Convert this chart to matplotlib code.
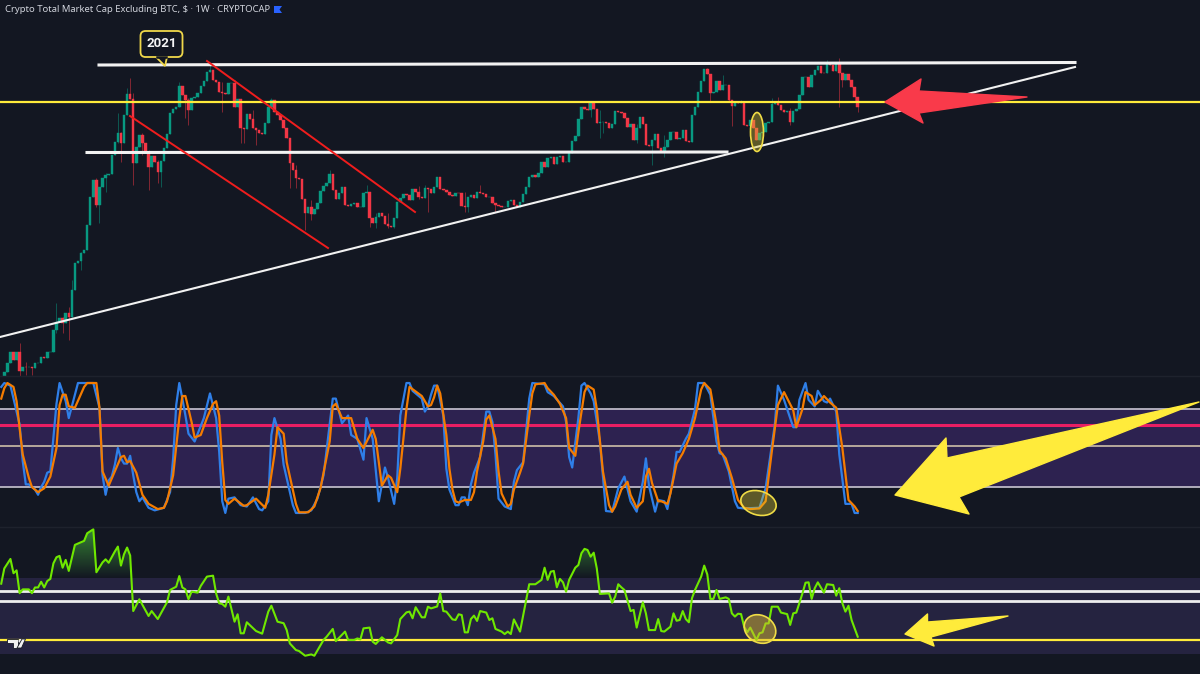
import numpy as np
import matplotlib
matplotlib.use("Agg")
from matplotlib import pyplot as plt
from matplotlib.patches import Ellipse, FancyBboxPatch, Polygon
from matplotlib.path import Path

W, H = 1200, 674
BG = "#131722"
UP = "#089981"
DOWN = "#F23645"
YELLOW = "#FFEB3B"

# weekly closes, in units of the (unlabelled) price pane
closes = [
    13, 38, 73, 48, 73, 16, 28, 26, 26, 23, 38, 40, 58, 53, 71, 73, 138, 163, 173, 160,
    190, 176, 258, 338, 346, 368, 378, 453, 538, 588, 513, 566, 593, 603, 605, 663, 703, 730, 698, 783,
    846, 830, 638, 688, 723, 700, 673, 626, 660, 643, 613, 645, 683, 726, 788, 801, 808, 870, 843, 828,
    798, 833, 836, 850, 870, 886, 913, 918, 888, 881, 853, 850, 846, 878, 878, 806, 830, 743, 740, 786,
    770, 743, 738, 730, 726, 760, 808, 828, 793, 783, 768, 743, 713,
    638, 618, 593, 590, 530, 488, 508, 486, 500, 520, 556, 570, 580, 606, 558, 530, 548, 568, 513, 510,
    516, 520, 506, 508, 548, 553, 475, 458, 476, 488, 480, 456, 450, 448, 473, 523, 533, 546, 544, 528,
    560, 553, 536, 533, 563, 560, 548, 566, 596, 560, 558, 553, 543, 540, 550, 548, 510, 508, 536, 544,
    533, 553, 550, 546, 536, 538, 518, 513, 510, 506, 506, 526, 528, 513, 506, 523, 546, 568, 598, 602,
    596, 610, 643, 628, 653, 658, 636, 658, 660, 643, 643, 670, 706, 720,
    770, 806, 802, 798, 818, 800, 758, 761, 763, 760, 743, 756, 795, 792, 788, 773, 748, 756, 708, 743,
    778, 756, 693, 690, 708, 726, 683, 673, 688, 708, 733, 733, 710, 713, 738, 706, 703, 783, 808, 853,
    886, 920, 906, 848, 853, 886, 858, 873, 873, 828, 810, 823, 820, 820, 753, 750, 768, 743, 708, 730,
    733, 758, 763, 816, 820, 813, 798, 793, 796, 763, 796, 800, 843, 896, 898, 866, 903, 918, 930, 910,
    908, 938, 933, 916, 936, 910, 888, 906, 888, 868, 838, 806,
]

# the wicks long enough to read: (week, high, low)
wicks = [
    (5, 98, 0), (7, 43, 3), (9, 28, 3), (17, 218, 130), (19, 178, 128), (21, 208, 108), (22, 288, 233),
    (25, 373, 318), (30, 593, 508), (31, 566, 458), (33, 608, 553), (37, 788, 700), (38, 733, 643),
    (40, 863, 783), (41, 893, 830), (42, 848, 573), (45, 728, 663), (47, 678, 558), (50, 648, 578),
    (51, 645, 568), (57, 883, 860), (59, 843, 773), (60, 833, 753), (67, 933, 918), (71, 883, 793),
    (75, 888, 806), (77, 828, 698), (78, 740, 698), (81, 798, 743), (82, 738, 693), (87, 833, 828),
    (93, 713, 563), (95, 633, 563), (98, 528, 438), (100, 528, 468), (106, 618, 580), (118, 573, 553),
    (119, 553, 448), (121, 488, 443), (125, 488, 443), (127, 450, 443), (135, 570, 530), (137, 573, 536),
    (138, 538, 493), (142, 598, 560), (150, 553, 493), (151, 510, 493), (155, 573, 553), (160, 518, 493),
    (190, 823, 802), (191, 818, 778), (194, 798, 713), (195, 763, 728), (206, 756, 698), (211, 698, 633),
    (215, 723, 658), (229, 923, 906), (230, 906, 823), (234, 903, 873), (236, 873, 823), (237, 828, 750),
    (240, 828, 820), (250, 833, 815), (252, 836, 813), (256, 803, 753), (268, 948, 933), (272, 953, 808),
    (273, 910, 868), (277, 868, 823), (278, 838, 793),
]

# stochastic RSI, %K: (week, value)
stoch_k = [
    (-1, 97), (0, 100), (2, 98), (3, 88), (5, 68), (6, 40), (7, 22), (8, 22), (10, 18), (11, 14), (12, 20),
    (13, 24), (14, 31), (15, 32), (16, 58), (17, 84), (18, 100), (20, 86), (21, 73), (22, 82), (24, 100),
    (29, 100), (31, 81), (32, 29), (33, 14), (34, 25), (35, 28), (36, 37), (37, 50), (38, 42), (39, 38),
    (40, 38), (41, 44), (42, 29), (43, 16), (44, 9), (45, 12), (47, 4), (49, 2), (52, 4), (54, 16), (55, 42),
    (56, 83), (57, 100), (58, 88), (59, 75), (60, 61), (62, 55), (65, 73), (67, 92), (69, 73), (70, 47),
    (71, 9), (72, 0), (73, 11), (75, 12), (77, 6), (79, 5), (81, 12), (83, 3), (84, 2), (86, 9), (87, 60),
    (88, 73), (90, 57), (91, 37), (94, 6), (95, 0), (98, 0), (100, 2), (102, 11), (104, 29), (106, 68),
    (107, 88), (108, 88), (110, 69), (112, 75), (113, 60), (115, 57), (117, 41), (118, 73), (120, 57),
    (122, 9), (124, 35), (125, 27), (127, 7), (128, 27), (129, 75), (131, 100), (132, 100), (133, 94),
    (136, 88), (137, 78), (138, 82), (139, 91), (140, 98), (141, 98), (143, 75), (144, 34), (145, 18),
    (147, 6), (148, 6), (149, 12), (150, 12), (151, 6), (152, 22), (153, 31), (155, 43), (157, 78), (158, 78),
    (159, 70), (160, 45), (161, 11), (163, 5), (165, 3), (166, 24), (167, 33), (169, 39), (171, 88), (172, 100),
    (176, 99), (177, 93), (179, 90), (182, 82), (183, 70), (184, 43), (185, 35), (187, 73), (188, 98), (189, 100),
    (191, 92), (192, 86), (194, 55), (196, 1.5), (198, 1), (200, 19), (202, 28), (204, 9), (206, 1), (208, 24),
    (209, 42), (210, 21), (212, 1), (213, 10), (215, 9), (216, 3), (218, 29), (219, 47), (220, 47), (222, 57),
    (223, 61), (225, 80), (226, 100), (228, 100), (230, 91), (232, 55), (233, 46), (234, 45), (236, 32), (238, 9),
    (239, 4), (241, 3.5), (246, 4), (248, 19), (251, 68), (252, 98), (254, 87), (257, 66), (258, 66), (259, 87),
    (261, 100), (262, 87), (264, 82), (265, 94), (267, 86), (268, 85), (269, 88), (271, 78), (272, 45), (274, 7),
    (276, 7), (277, 0), (278, 0),
]

# stochastic RSI, %D
stoch_d = [
    (-1, 88), (0, 96), (1, 100), (3, 97), (4, 86), (5, 65), (6, 45), (8, 27), (9, 20), (11, 16), (13, 19),
    (15, 28), (17, 50), (18, 83), (19, 91), (20, 91), (21, 82), (23, 81), (26, 97), (27, 100), (30, 100),
    (31, 81), (32, 32), (34, 21), (36, 32), (38, 43), (39, 44), (40, 39), (41, 40), (43, 31), (45, 14), (47, 7),
    (50, 3), (52, 4), (53, 9), (55, 29), (57, 73), (58, 90), (59, 90), (61, 70), (62, 58), (64, 60), (66, 73),
    (68, 84), (69, 86), (70, 75), (71, 39), (72, 10), (73, 7), (75, 11), (78, 5.5), (79, 6), (82, 11), (85, 4),
    (86, 14), (88, 45), (89, 66), (91, 61), (92, 39), (95, 7), (96, 0.5), (99, 0.5), (101, 5), (103, 19),
    (106, 55), (107, 82), (108, 84), (110, 73), (113, 73), (115, 57), (117, 50), (120, 64), (121, 57), (123, 21),
    (125, 29), (126, 27), (128, 16), (129, 34), (131, 80), (132, 97), (136, 90), (138, 82), (139, 83), (140, 89),
    (141, 98), (142, 92), (144, 60), (145, 34), (146, 18), (147, 9), (148, 8), (150, 10), (152, 10), (153, 16),
    (154, 32), (156, 55), (157, 72), (158, 75), (160, 57), (161, 32), (162, 15), (164, 5), (165, 7), (166, 18),
    (168, 31), (169, 38), (171, 75), (172, 92), (173, 99), (176, 100), (177, 96), (179, 91), (181, 84), (183, 73),
    (184, 50), (186, 44), (187, 62), (189, 93), (190, 98), (192, 95), (193, 80), (195, 32), (197, 6), (198, 1),
    (199, 5), (201, 18), (203, 24), (204, 14), (206, 4), (208, 9), (209, 28), (210, 34), (211, 23), (213, 9),
    (214, 9), (216, 7), (217, 15), (219, 38), (221, 46), (223, 57), (225, 73), (227, 95), (228, 100), (230, 95),
    (232, 68), (233, 48), (235, 42), (237, 27), (239, 10), (241, 4), (243, 3), (246, 3.5), (248, 9), (250, 47),
    (252, 83), (254, 93), (257, 79), (258, 66), (260, 80), (261, 93), (263, 90), (264, 83), (266, 87), (267, 90),
    (269, 85), (271, 81), (273, 50), (275, 10), (277, 5), (278, 1.5),
]

# RSI
rsi = [
    (-1, 67), (0, 75), (2, 80), (3, 72.5), (4, 74), (5, 62), (6, 64), (8, 64), (9, 62), (10, 65), (11, 65),
    (12, 68), (13, 65), (14, 68.4), (15, 69.5), (16, 77.7), (17, 80.9), (18, 81.6), (19, 75.4), (20, 79.5),
    (21, 73.7), (23, 87.4), (26, 89.5), (27, 93.5), (29, 95.6), (30, 73), (32, 78.2), (33, 79.8), (34, 78),
    (36, 83.9), (37, 86.5), (38, 76.5), (39, 82.5), (40, 86), (41, 81.8), (42, 52.6), (44, 58.8), (47, 50),
    (48, 52.6), (50, 48.4), (53, 57.2), (54, 63.7), (56, 65.4), (57, 71), (58, 65), (59, 64), (60, 58.8),
    (61, 62.8), (63, 62.3), (64, 65.8), (66, 70.7), (68, 71.2), (69, 61.9), (70, 56.7), (71, 56.3), (72, 54.9),
    (73, 60.2), (75, 47), (76, 50.9), (77, 40.9), (78, 40.9), (79, 46.7), (82, 42.1), (84, 40.7), (86, 52.3),
    (87, 55.4), (89, 47), (91, 46.2), (92, 42.6), (93, 35.6), (95, 32.1), (96, 31.6), (98, 29.1), (100, 29.8),
    (101, 29.1), (104, 37.4), (105, 39.1), (107, 43.2), (108, 36.8), (111, 41.8), (112, 37.4), (114, 37.4),
    (115, 38.2), (116, 37.7), (117, 43.5), (119, 43.9), (120, 36.5), (121, 35.3), (123, 38.8), (125, 36.1),
    (126, 35.6), (128, 40), (129, 48.4), (131, 51.9), (132, 52.3), (133, 48.8), (134, 54.6), (136, 49.3),
    (137, 49.3), (138, 54.9), (139, 54), (141, 55), (142, 61.9), (143, 52.6), (144, 52.3), (146, 48.2),
    (147, 47.9), (148, 50.9), (149, 50.5), (150, 41.4), (151, 41.4), (152, 48.4), (153, 50.2), (154, 47.4),
    (155, 52.6), (157, 51.8), (158, 47.9), (159, 48.8), (160, 43.2), (162, 41.8), (163, 40.5), (164, 41.8),
    (165, 40.5), (166, 48.2), (168, 41.8), (171, 66.7), (173, 66.7), (175, 69), (176, 75.4), (177, 69),
    (178, 73.3), (179, 73.7), (180, 65.1), (181, 69.5), (182, 67.7), (183, 62.8), (184, 69), (186, 75.4),
    (187, 76.8), (188, 83), (189, 85.3), (190, 84.7), (191, 81.2), (192, 83.3), (193, 75.1), (194, 61.6),
    (197, 61.9), (198, 57), (199, 60.2), (200, 66.7), (201, 65.1), (202, 63.7), (204, 52.6), (205, 53.2),
    (206, 43.9), (208, 57.2), (209, 51.4), (210, 42.6), (212, 42.6), (213, 48.4), (214, 42.1), (215, 41.8),
    (217, 44.4), (218, 51.4), (219, 47.5), (220, 47.9), (221, 52.6), (222, 48.4), (223, 46.7), (224, 59.3),
    (225, 63.7), (227, 70.7), (228, 76.5), (229, 71.9), (230, 59), (231, 59), (232, 63.7), (233, 59), (235, 59.8),
    (236, 59), (237, 51.4), (238, 49.7), (239, 51.2), (240, 51), (241, 44.4), (242, 41.4), (243, 43.9), (245, 37.4),
    (246, 40.9), (247, 41.4), (248, 46.1), (249, 46.1), (250, 54.9), (252, 54.9), (253, 51.8), (255, 51), (256, 45.3),
    (257, 51.4), (258, 51.8), (260, 61.9), (261, 67.5), (262, 67.7), (263, 59), (264, 64.6), (265, 67.7), (267, 62.3),
    (268, 66.7), (270, 66.3), (271, 60.7), (272, 64.6), (273, 56.7), (274, 52.3), (275, 55.4), (276, 47.9), (278, 39.1),
]


def pane(top, bottom, ylim):
    ax = fig.add_axes([0, 1 - bottom / H, 1, (bottom - top) / H], facecolor=BG)
    ax.set_xlim(-1.4, 389.5)
    ax.set_ylim(*ylim)
    ax.axis("off")
    return ax


fig = plt.figure(figsize=(W / 100, H / 100), dpi=100, facecolor=BG)

# %%
# price pane
ax_price = pane(0, 376, (0, 1128))
close = np.array(closes, dtype=float)
open_ = np.r_[0.0, close[:-1]]
week = np.arange(len(close))
high = np.maximum(open_, close)
low = np.minimum(open_, close)
for w, hi, lo in wicks:
    if w < len(close):
        high[w] = max(high[w], hi)
        low[w] = min(low[w], lo)
colors = np.where(close >= open_, UP, DOWN)
ax_price.vlines(week, low, high, colors=colors, linewidth=0.7, alpha=0.5)
ax_price.bar(week, close - open_, bottom=open_, width=0.8, color=colors, edgecolor=colors, linewidth=0.3)

# %%
# stochastic RSI pane
ax_stoch = pane(376, 527, (-10.8, 105.4))
ax_stoch.axhspan(20, 80, color="#2d2250", lw=0)
ax_stoch.axhline(80, color="#bcb8c6", lw=1.3)
ax_stoch.axhline(67.7, color="#e91e63", lw=2.2)
ax_stoch.axhline(51.5, color="#cdbfa8", lw=1.2)
ax_stoch.axhline(20, color="#bcb8c6", lw=1.3)
ax_stoch.plot(*zip(*stoch_k), color="#2f7fe8", lw=1.6, solid_joinstyle="round")
ax_stoch.plot(*zip(*stoch_d), color="#f57c00", lw=1.6, solid_joinstyle="round")

# %%
# RSI pane
ax_rsi = pane(527, 674, (19.5, 96.8))
ax_rsi.axhspan(30, 70, color="#252340", lw=0)
rsi_week, rsi_val = map(np.array, zip(*rsi))
fill = ax_rsi.fill_between(rsi_week, rsi_val, 70, where=rsi_val > 70, interpolate=True, color="none")
gradient = np.zeros((64, 2, 4))
gradient[..., 0:3] = (0.30, 0.80, 0.25)
gradient[..., 3] = np.linspace(0.62, 0, 64)[:, None]
glow = ax_rsi.imshow(gradient, extent=(-1.4, 389.5, 70, 96.8), aspect="auto", zorder=1.5)
glow.set_clip_path(Path.make_compound_path(*fill.get_paths()), ax_rsi.transData)
ax_rsi.set_xlim(-1.4, 389.5)
ax_rsi.set_ylim(19.5, 96.8)
ax_rsi.axhline(63.2, color="#eeeeee", lw=2)
ax_rsi.axhline(58, color="#eeeeee", lw=2)
ax_rsi.axhline(37.3, color=YELLOW, lw=1.6)
ax_rsi.plot(rsi_week, rsi_val, color="#6fe800", lw=1.5, zorder=3)

# %%
# drawings over the panes, placed in image pixels
ax_top = fig.add_axes([0, 0, 1, 1], facecolor="none")
ax_top.set_xlim(0, W)
ax_top.set_ylim(H, 0)
ax_top.axis("off")

for ax_y in (376, 527):
    ax_top.plot([0, W], [ax_y, ax_y], color="#1e222d", lw=1)

ax_top.plot([0, W], [102, 102], color=YELLOW, lw=1.6)
ax_top.plot([99, 1075], [65, 62.5], color="#f2f2f2", lw=2.2)
ax_top.plot([87, 727], [152.5, 152], color="#f2f2f2", lw=2.2)
ax_top.plot([0, 1075], [337, 67], color="#f2f2f2", lw=1.5)
ax_top.plot([207, 415], [61, 212], color="#f01d1d", lw=1.4)
ax_top.plot([130, 328], [116, 248], color="#f01d1d", lw=1.4)

ellipse_fill = (0.85, 0.78, 0.2, 0.38)
ax_top.add_patch(Ellipse((757, 132), 13, 39, fc=ellipse_fill, ec="#f0dc46", lw=1.2, zorder=4))
ax_top.add_patch(Ellipse((758.5, 503), 36, 24, angle=15, fc=ellipse_fill, ec="#f0dc46", lw=1.2, zorder=4))
ax_top.add_patch(Ellipse((760, 629), 33, 27, angle=30, fc=(0.85, 0.72, 0.2, 0.5), ec="#f0dc46", lw=1.2, zorder=4))

ax_top.add_patch(Polygon([(885, 102), (921, 79), (919, 91), (1027, 97), (919, 113), (923, 123)],
                         closed=True, fc="#f93a4a", ec="#f93a4a", lw=1, joinstyle="round", zorder=4))
ax_top.add_patch(Polygon([(895, 495), (946, 438), (947, 458), (1199, 402), (959, 497), (969, 514)],
                         closed=True, fc="#ffeb3b", ec="#ffeb3b", lw=1, joinstyle="round", zorder=4))
ax_top.add_patch(Polygon([(905, 634), (927.5, 614), (927.5, 622), (1008, 616), (931, 637), (934, 646)],
                         closed=True, fc="#ffeb3b", ec="#ffeb3b", lw=1, joinstyle="round", zorder=4))

# callout
ax_top.add_patch(FancyBboxPatch((143, 33.5), 37, 21, boxstyle="round,pad=2.5,rounding_size=5",
                                fc=BG, ec="#f0d84a", lw=1.3, zorder=4))
ax_top.add_patch(Polygon([(156, 57), (165, 66), (167, 57)], closed=False, fc=BG, ec="#f0d84a", lw=1.3, zorder=4))
ax_top.plot([157, 166], [57, 57], color=BG, lw=1.8, zorder=4)
ax_top.text(161.5, 43.5, "2021", color="#f5f5f5", fontsize=9.5, fontweight="bold", family="Roboto",
            ha="center", va="center", zorder=5)

# header
ax_top.text(5, 9.5, "Crypto Total Market Cap Excluding BTC, $ · 1W · CRYPTOCAP", color="#d1d4dc",
            fontsize=6.8, family="Noto Sans", ha="left", va="center")
ax_top.add_patch(Polygon([(274, 6), (282, 6), (279.5, 9.5), (282, 13), (274, 13)], closed=True, fc="#2962ff", ec="none"))

# chart logo
ax_top.add_patch(Polygon([(7, 639), (18, 639), (18, 648), (12.5, 648), (12.5, 643), (7, 643)],
                         closed=True, fc="#f0f0f0", ec="#131722", lw=0.6, zorder=5))
ax_top.add_patch(Ellipse((20.5, 641), 4, 4, fc="#f0f0f0", ec="none", zorder=5))
ax_top.add_patch(Polygon([(22, 639), (25.5, 639), (21.5, 648), (17, 648)], closed=True, fc="#f0f0f0", ec="#131722", lw=0.6, zorder=5))

fig.savefig("out.png", dpi=100, facecolor=BG)
